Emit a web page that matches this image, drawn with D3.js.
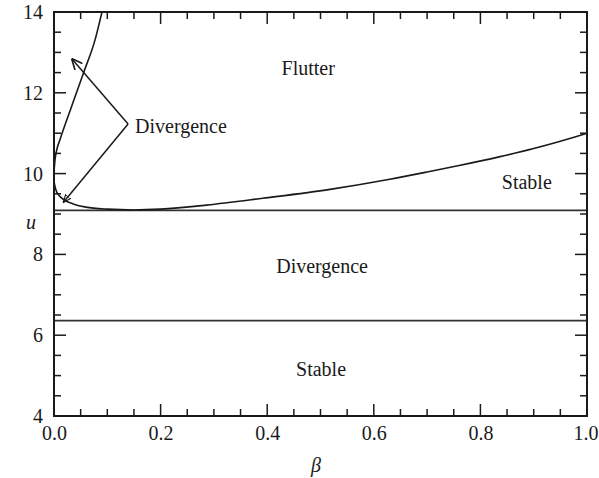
<!DOCTYPE html>
<html>
<head>
<meta charset="utf-8">
<script src="https://cdn.jsdelivr.net/npm/d3@7"></script>
<style>
  html, body { margin: 0; padding: 0; background: #fff; }
  svg { display: block; }
</style>
</head>
<body>
<svg id="chart" width="599" height="478"></svg>
<script>
// ---- data ----
const xTicks = [0.0, 0.2, 0.4, 0.6, 0.8, 1.0];
const xTickLabels = ["0.0", "0.2", "0.4", "0.6", "0.8", "1.0"];
const yTicks = [4, 6, 8, 10, 12, 14];
const yTickLabels = ["4", "6", "8", "10", "12", "14"];

// flutter boundary (lower curve): [beta, u]
const flutterBoundary = [
  [0.000, 9.80], [0.003, 9.62], [0.010, 9.45], [0.020, 9.34], [0.036, 9.25],
  [0.060, 9.17], [0.100, 9.12], [0.150, 9.10], [0.200, 9.12], [0.286, 9.22],
  [0.392, 9.39], [0.518, 9.61], [0.630, 9.86], [0.700, 10.04], [0.760, 10.20],
  [0.837, 10.42], [0.900, 10.62], [0.950, 10.80], [1.000, 11.00]
];
// divergence boundary (steep curve near beta = 0)
const divergenceBoundary = [
  [0.000, 10.05], [0.002, 10.35], [0.005, 10.58], [0.011, 10.83],
  [0.033, 11.66], [0.055, 12.48], [0.077, 13.31], [0.090, 14.00]
];
// horizontal boundaries
const hLines = [9.09, 6.36];

// region labels
const regionLabels = [
  { text: "Flutter", beta: 0.477, u: 12.61 },
  { text: "Stable", beta: 0.887, u: 9.80 },
  { text: "Divergence", beta: 0.503, u: 7.71 },
  { text: "Stable", beta: 0.501, u: 5.16 }
];
// pointer label with two arrows
const pointerLabel = { text: "Divergence", beta: 0.152, u: 11.23 };
const pointerVertex = [0.139, 11.23];
const pointerTips = [[0.033, 12.85], [0.017, 9.28]];

// ---- layout ----
const FONT = "'Liberation Serif', 'Times New Roman', Times, 'DejaVu Serif', serif";
const svg = d3.select("#chart").attr("font-family", FONT);
const margin = { left: 54, top: 12 };
const W = 533, H = 404;
const x = d3.scaleLinear().domain([0, 1]).range([0, W]);
const y = d3.scaleLinear().domain([4, 14]).range([H, 0]);
const g = svg.append("g").attr("transform", `translate(${margin.left},${margin.top})`);

const ink = "#1a1a1a";
const FS = 20;

// minor / major ticks on all four sides, inward
const xMinor = d3.range(0, 1.0001, 0.05);
const yMinor = d3.range(4, 14.0001, 0.5);
const isMajX = v => Math.abs(v * 5 - Math.round(v * 5)) < 1e-6;
const isMajY = v => Math.abs(v / 2 - Math.round(v / 2)) < 1e-6;
const majLen = 12, minLen = 7;

xMinor.forEach(v => {
  const L = isMajX(v) ? majLen : minLen;
  g.append("line").attr("x1", x(v)).attr("x2", x(v)).attr("y1", H).attr("y2", H - L)
    .attr("stroke", ink).attr("stroke-width", 1.5);
  g.append("line").attr("x1", x(v)).attr("x2", x(v)).attr("y1", 0).attr("y2", L)
    .attr("stroke", ink).attr("stroke-width", 1.5);
});
yMinor.forEach(v => {
  const L = isMajY(v) ? majLen : minLen;
  g.append("line").attr("x1", 0).attr("x2", L).attr("y1", y(v)).attr("y2", y(v))
    .attr("stroke", ink).attr("stroke-width", 1.5);
  g.append("line").attr("x1", W).attr("x2", W - L).attr("y1", y(v)).attr("y2", y(v))
    .attr("stroke", ink).attr("stroke-width", 1.5);
});

// tick labels via axes
const xAxis = d3.axisBottom(x).tickValues(xTicks).tickFormat((d, i) => xTickLabels[i]).tickSize(0).tickPadding(10);
const gx = g.append("g").attr("transform", `translate(0,${H})`).call(xAxis);
gx.attr("font-family", FONT).attr("font-size", FS);
gx.select(".domain").remove();
gx.selectAll("text").attr("fill", ink).attr("dx", (d, i) => i === xTicks.length - 1 ? -1.5 : 0);

const yAxis = d3.axisLeft(y).tickValues(yTicks).tickFormat((d, i) => yTickLabels[i]).tickSize(0).tickPadding(11);
const gy = g.append("g").call(yAxis);
gy.attr("font-family", FONT).attr("font-size", FS);
gy.select(".domain").remove();
gy.selectAll("text").attr("fill", ink);

// horizontal boundaries
hLines.forEach(v => {
  g.append("line").attr("x1", 0).attr("x2", W).attr("y1", y(v)).attr("y2", y(v))
    .attr("stroke", "#333").attr("stroke-width", 1.6);
});

// curves
const line = d3.line().x(d => x(d[0])).y(d => y(d[1])).curve(d3.curveMonotoneX);
g.append("path").datum(flutterBoundary).attr("d", line)
  .attr("fill", "none").attr("stroke", ink).attr("stroke-width", 1.6);
g.append("path").datum(divergenceBoundary).attr("d", line)
  .attr("fill", "none").attr("stroke", ink).attr("stroke-width", 1.6);

// frame
g.append("rect").attr("x", 0).attr("y", 0).attr("width", W).attr("height", H)
  .attr("fill", "none").attr("stroke", ink).attr("stroke-width", 2);

// arrow markers
const defs = svg.append("defs");
defs.append("marker").attr("id", "openV").attr("viewBox", "0 0 10 10")
  .attr("refX", 10).attr("refY", 5).attr("markerWidth", 11).attr("markerHeight", 11)
  .attr("markerUnits", "userSpaceOnUse").attr("orient", "auto")
  .append("path").attr("d", "M0,0.5 L10,5 L0,9.5").attr("fill", "none")
  .attr("stroke", ink).attr("stroke-width", 1.5);
defs.append("marker").attr("id", "tri").attr("viewBox", "0 0 10 10")
  .attr("refX", 10).attr("refY", 5).attr("markerWidth", 8).attr("markerHeight", 8)
  .attr("markerUnits", "userSpaceOnUse").attr("orient", "auto")
  .append("path").attr("d", "M0,1 L10,5 L0,9 Z").attr("fill", "none")
  .attr("stroke", ink).attr("stroke-width", 1.4);

pointerTips.forEach((t, i) => {
  g.append("line")
    .attr("x1", x(pointerVertex[0])).attr("y1", y(pointerVertex[1]))
    .attr("x2", x(t[0])).attr("y2", y(t[1]))
    .attr("stroke", ink).attr("stroke-width", 1.5)
    .attr("marker-end", i === 0 ? "url(#openV)" : "url(#tri)");
});

// labels
regionLabels.forEach(l => {
  g.append("text").attr("x", x(l.beta)).attr("y", y(l.u)).attr("text-anchor", "middle")
    .attr("dominant-baseline", "central").attr("font-size", FS).attr("fill", ink).text(l.text);
});
g.append("text").attr("x", x(pointerLabel.beta)).attr("y", y(pointerLabel.u) + 2)
  .attr("text-anchor", "start").attr("dominant-baseline", "central")
  .attr("font-size", FS).attr("fill", ink).text(pointerLabel.text);

// axis titles
svg.append("text").attr("x", 31).attr("y", 222).attr("text-anchor", "middle")
  .attr("dominant-baseline", "central").attr("font-size", FS).attr("font-style", "italic")
  .attr("fill", ink).text("u");
svg.append("text").attr("x", 316).attr("y", 465).attr("text-anchor", "middle")
  .attr("dominant-baseline", "central").attr("font-size", FS).attr("font-style", "italic")
  .attr("fill", ink).text("β");
</script>
</body>
</html>
